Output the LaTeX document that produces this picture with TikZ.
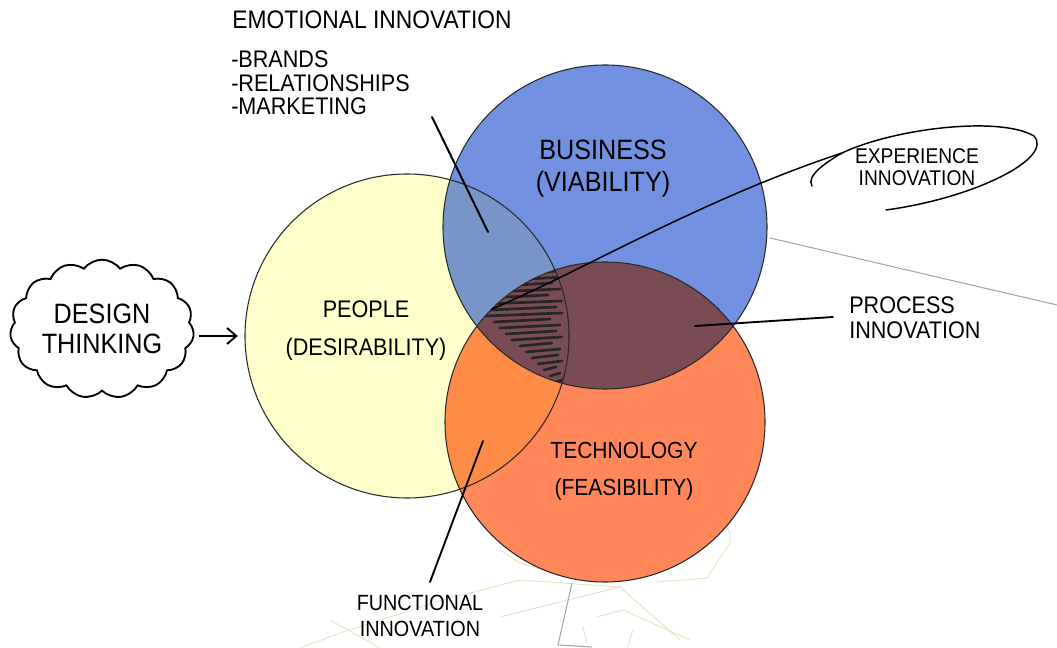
\documentclass[tikz,border=0pt]{standalone}
\usepackage{fontspec}
\newfontfamily\hand[FakeStretch=0.9]{Liberation Sans}
\usetikzlibrary{shapes.symbols,arrows.meta}
\definecolor{cYel}{HTML}{FFFFCC}
\definecolor{cBlue}{HTML}{7391E1}
\definecolor{cOra}{HTML}{FF875A}
\definecolor{cYB}{HTML}{7896C8}
\definecolor{cYO}{HTML}{FF8C46}
\definecolor{cBO}{HTML}{784B55}
\definecolor{cEdge}{HTML}{2A2A2A}
\definecolor{cTan}{HTML}{EFE2C4}
\definecolor{cGrayL}{HTML}{A8A8A8}
\newcommand\hsz[2]{\fontsize{#1}{#2}\selectfont}
\begin{document}
\begin{tikzpicture}[x=0.75pt,y=-0.75pt,
  ring/.style={circle, draw=cEdge, line width=0.8pt, inner sep=0pt},
  lab/.style={font=\hand, align=center, inner sep=0pt, text=black},
  lead/.style={draw=black, line width=1.1pt, line cap=round},
  hatchln/.style={draw=black!85, line width=2pt, line cap=round},
  tanl/.style={draw=cTan, line width=0.7pt},
  grayl/.style={draw=cGrayL, line width=0.8pt}]
\useasboundingbox (0,0) rectangle (1057,648);
\fill[white] (0,0) rectangle (1057,648);

% faint background lines
\draw[tanl] (300,648) -- (343,632) -- (443,600) -- (520,580) -- (620,587) -- (680,640);
\draw[tanl] (500,617) -- (620,587);
\draw[tanl] (597,617) -- (623,610) -- (690,640);
\draw[tanl] (657,582) -- (707,578) -- (730,543) -- (730,533) -- (723,520);
\draw[tanl] (500,550) -- (520,563) -- (560,575);
\draw[tanl] (583,627) -- (587,643);
\draw[tanl] (633,630) -- (627,648);
\draw[tanl] (330,620) -- (380,648);
\draw[grayl] (572,583) -- (558,645) -- (592,647);
\draw[grayl] (770,238) -- (1057,305);

\coordinate (P) at (407,336);
\coordinate (B) at (605,227);
\coordinate (T) at (605,422);

% fills
\fill[cYel] (P) circle[radius=162];
\fill[cBlue] (B) circle[radius=162];
\fill[cOra] (T) circle[radius=160];
\begin{scope}
  \clip (P) circle[radius=162];
  \fill[cYB] (B) circle[radius=162];
  \fill[cYO] (T) circle[radius=160];
\end{scope}
\begin{scope}
  \clip (B) circle[radius=162];
  \fill[cBO] (T) circle[radius=160];
\end{scope}
% hatching of the triple overlap
\begin{scope}
  \clip (P) circle[radius=162];
  \clip (B) circle[radius=162];
  \clip (T) circle[radius=160];
  \foreach \ya/\xa/\xb in {268/548/560, 274/528/556, 280/512/562, 286/500/552, 292/492/560,
      298/486/548, 304/482/562, 310/490/556, 316/486/562, 322/494/550, 328/500/560,
      334/506/556, 340/512/562, 346/520/552, 352/526/560, 358/532/558, 364/538/562,
      370/544/556, 376/550/560, 382/556/566}
    \draw[hatchln] (\xa,\ya) -- (\xb,{\ya-3});
\end{scope}

% outlines
\node[ring, minimum size=243pt] (people) at (P) {};
\node[ring, minimum size=243pt] (business) at (B) {};
\node[ring, minimum size=240pt] (tech) at (T) {};

% labels
\node[lab, font=\hand\hsz{21}{24}] (busl) at (603,169) {BUSINESS\\(VIABILITY)};
\node[lab, font=\hand\hsz{18}{28.5}] (peol) at (366,331) {PEOPLE\\(DESIRABILITY)};
\node[lab, font=\hand\hsz{17.5}{28}] (tecl) at (624,471) {TECHNOLOGY\\(FEASIBILITY)};
\node[lab, font=\hand\hsz{19}{22}] (emo) at (372,20) {EMOTIONAL INNOVATION};
\node[lab, font=\hand\hsz{18}{17.6}, align=left, anchor=west] (list) at (231,83) {-BRANDS\\-RELATIONSHIPS\\-MARKETING};
\node[lab, font=\hand\hsz{16}{16.5}] (exper) at (917,167) {EXPERIENCE\\INNOVATION};
\node[lab, font=\hand\hsz{18}{19}, align=left, anchor=west] (proc) at (849,318) {PROCESS\\INNOVATION};
\node[lab, font=\hand\hsz{16.5}{20}] (func) at (420,616) {FUNCTIONAL\\INNOVATION};
\node[cloud, draw=black, line width=1.4pt, cloud puffs=15, cloud puff arc=105, aspect=1.4,
      minimum width=138pt, minimum height=104pt, inner sep=0pt,
      lab, font=\hand\hsz{21}{22.5}] (design) at (102,329) {DESIGN\\THINKING};

% connectors
\coordinate (emoEnd) at (432,117);
\coordinate (emoIn) at (488,232);
\draw[lead, line width=1.5pt] (emoEnd) -- (emoIn);

\coordinate (funEnd) at (430,582);
\coordinate (funIn) at (483,441);
\draw[lead, line width=1.4pt] (funEnd) -- (funIn);

\coordinate (procIn) at (695,326);
\coordinate (procEnd) at (833,317);
\draw[lead, line width=1.4pt] (procIn) -- (procEnd);

\coordinate (trip) at (492,309);
\coordinate (hk) at (842,153);
\draw[lead] (trip) .. controls (580,272) and (700,200) .. (hk)
   .. controls (895,128) and (1000,116) .. (1034,136)
   .. controls (1054,158) and (975,198) .. (886,210);
\coordinate (hkEnd) at (812,186);
\draw[lead] (hk) .. controls (825,163) and (806,176) .. (hkEnd);

\draw[line width=1.4pt, -{Straight Barb[length=7pt,width=12pt]}]
   ([xshift=4pt]design.east |- people.west) -- ([xshift=-5pt]people.west);
\end{tikzpicture}
\end{document}
